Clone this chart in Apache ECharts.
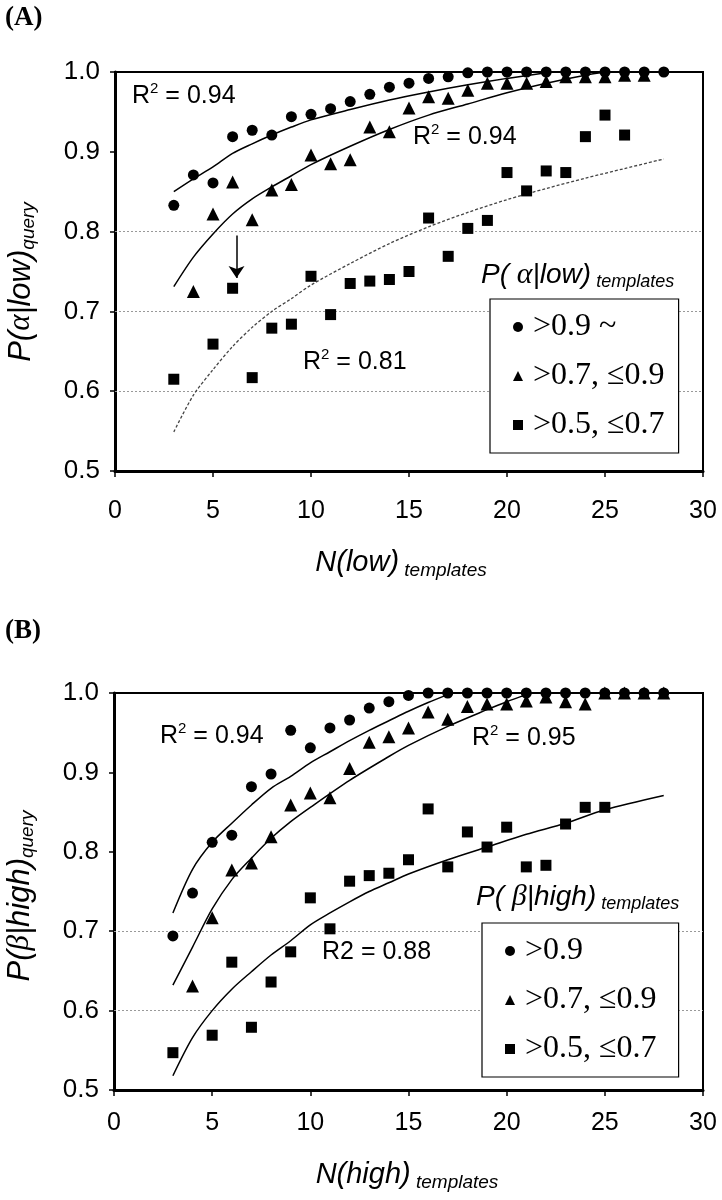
<!DOCTYPE html>
<html><head><meta charset="utf-8">
<script src="https://cdn.jsdelivr.net/npm/echarts@6/dist/echarts.min.js"></script>
<style>html,body{margin:0;padding:0;background:#fff}#c{width:722px;height:1200px}</style>
</head><body><div id="c"></div>
<script>
// ---------- data ----------
const xTicks = [0, 5, 10, 15, 20, 25, 30];
const yTicks = [0.5, 0.6, 0.7, 0.8, 0.9, 1.0];

// Panel A : P(alpha|low)
const circleA_x = [3,4,5,6,7,8,9,10,11,12,13,14,15,16,17,18,19,20,21,22,23,24,25,26,27,28];
const circleA_y = [0.833,0.871,0.861,0.919,0.927,0.921,0.944,0.947,0.954,0.963,0.972,0.981,0.986,0.992,0.994,0.999,1.0,1.0,1.0,1.0,1.0,1.0,1.0,1.0,1.0,1.0];
const triA_x = [4,5,6,7,8,9,10,11,12,13,14,15,16,17,18,19,20,21,22,23,24,25,26,27];
const triA_y = [0.725,0.822,0.862,0.815,0.852,0.859,0.896,0.885,0.890,0.931,0.925,0.955,0.969,0.967,0.977,0.986,0.986,0.986,0.988,0.994,0.994,0.994,0.996,0.996];
const sqA_x = [3,5,6,7,8,9,10,11,12,13,14,15,16,17,18,19,20,21,22,23,24,25,26];
const sqA_y = [0.615,0.659,0.729,0.617,0.679,0.684,0.744,0.696,0.735,0.738,0.740,0.750,0.817,0.769,0.804,0.814,0.874,0.851,0.876,0.874,0.919,0.946,0.921];

const fitCircleA_x = [3,4,5,6,7,8,9,10,12,14,16,18,20,22];
const fitCircleA_y = [0.850,0.866,0.881,0.898,0.910,0.921,0.931,0.940,0.953,0.965,0.975,0.984,0.992,0.999];
const fitTriA_x = [3,4,5,6,7,8,9,10,12,14,16,18,20,22,24,25];
const fitTriA_y = [0.731,0.768,0.797,0.822,0.841,0.856,0.870,0.884,0.907,0.928,0.946,0.960,0.974,0.986,0.996,1.0];
const fitSqA_x = [3,4,5,6,7,8,9,10,12,14,16,18,20,22,24,26,28];
const fitSqA_y = [0.549,0.595,0.627,0.656,0.680,0.700,0.716,0.733,0.760,0.785,0.806,0.824,0.840,0.854,0.867,0.879,0.891];

// Panel B : P(beta|high)
const circleB_x = [3,4,5,6,7,8,9,10,11,12,13,14,15,16,17,18,19,20,21,22,23,24,25,26,27,28];
const circleB_y = [0.694,0.748,0.812,0.821,0.882,0.898,0.953,0.931,0.956,0.966,0.981,0.989,0.997,1.0,1.0,1.0,1.0,1.0,1.0,1.0,1.0,1.0,1.0,1.0,1.0,1.0];
const triB_x = [4,5,6,7,8,9,10,11,12,13,14,15,16,17,18,19,20,21,22,23,24,25,26,27,28];
const triB_y = [0.631,0.717,0.777,0.786,0.819,0.859,0.874,0.868,0.905,0.938,0.945,0.956,0.976,0.967,0.983,0.986,0.986,0.990,0.995,0.989,0.986,1.0,1.0,1.0,1.0];
const sqB_x = [3,5,6,7,8,9,10,11,12,13,14,15,16,17,18,19,20,21,22,23,24,25];
const sqB_y = [0.547,0.569,0.661,0.579,0.636,0.674,0.742,0.703,0.763,0.770,0.773,0.790,0.854,0.781,0.825,0.806,0.831,0.781,0.783,0.835,0.856,0.856];

const fitCircleB_x = [3,4,5,6,7,8,9,10,11,12,13,14,15,16,17];
const fitCircleB_y = [0.723,0.778,0.812,0.836,0.859,0.880,0.895,0.912,0.926,0.940,0.953,0.965,0.977,0.988,0.998];
const fitTriB_x = [3,4,5,6,7,8,9,10,12,14,15,17,19,20,21];
const fitTriB_y = [0.632,0.680,0.728,0.765,0.792,0.817,0.838,0.856,0.890,0.920,0.934,0.958,0.979,0.989,0.998];
const fitSqB_x = [3,4,5,6,7,8,9,10,11,12,13,14,15,17,19,21,23,25,28];
const fitSqB_y = [0.518,0.566,0.600,0.627,0.649,0.670,0.688,0.708,0.723,0.737,0.750,0.761,0.772,0.790,0.806,0.822,0.836,0.853,0.871];

const legendA = ['>0.9 ~', '>0.7, \u22640.9', '>0.5, \u22640.7'];
const legendB = ['>0.9', '>0.7, \u22640.9 ', '>0.5, \u22640.7 '];
const r2A = ['0.94', '0.94', '0.81'];
const r2B = ['0.94', '0.95', '0.88'];
const gridLinesA = [0.6, 0.7, 0.8];
const gridLinesB = [0.6, 0.7];
const arrowA = {x: 6.2, from: 0.795, to: 0.742};

// ---------- helpers ----------
const zip = (xs, ys) => xs.map((x, i) => [x, ys[i]]);
const SANS = 'Liberation Sans', SERIF = 'Liberation Serif';

function axesFor(gi, labelMargin) {
  const x = {
    gridIndex: gi, type: 'value', min: xTicks[0], max: xTicks[xTicks.length - 1], interval: 5,
    axisLine: {show: true, onZero: false, lineStyle: {color: '#000', width: 3}},
    axisTick: {show: true, length: 6, lineStyle: {color: '#000', width: 1.5}},
    axisLabel: {fontSize: 25, fontFamily: SANS, color: '#000', margin: labelMargin},
    splitLine: {show: false}
  };
  const y = {
    gridIndex: gi, type: 'value', min: yTicks[0], max: yTicks[yTicks.length - 1], interval: 0.1,
    axisLine: {show: true, onZero: false, lineStyle: {color: '#000', width: 3}},
    axisTick: {show: true, length: 5, lineStyle: {color: '#000', width: 1.5}},
    axisLabel: {fontSize: 26, fontFamily: SANS, color: '#000', margin: 15, formatter: v => v.toFixed(1)},
    splitLine: {show: false}
  };
  return [x, y];
}
function scatter(name, gi, symbol, size, xs, ys) {
  return {name, type: 'scatter', xAxisIndex: gi, yAxisIndex: gi, symbol, symbolSize: size,
    itemStyle: {color: '#000', opacity: 1}, data: zip(xs, ys), z: 5};
}
function fit(name, gi, xs, ys, style) {
  return {name, type: 'line', xAxisIndex: gi, yAxisIndex: gi, showSymbol: false, smooth: 0.3,
    clip: true, lineStyle: style, data: zip(xs, ys), z: 4, silent: true};
}
function r2Text(x, y, val, sup) {
  return {type: 'text', x, y, style: {
    text: sup ? '{a|R}{s|2}{a| = ' + val + '}' : '{a|R2 = ' + val + '}',
    verticalAlign: 'middle',
    rich: {a: {fontSize: 25, fontFamily: SANS, fill: '#000', lineHeight: 30},
           s: {fontSize: 15, fontFamily: SANS, fill: '#000', lineHeight: 30, verticalAlign: 'top'}}
  }};
}
const richName = {
  i: {fontSize: 31, fontFamily: SANS, fontStyle: 'italic', fill: '#000', lineHeight: 34},
  g: {fontSize: 31, fontFamily: SERIF, fontStyle: 'italic', fill: '#000', lineHeight: 34},
  q: {fontSize: 19, fontFamily: SANS, fontStyle: 'italic', fill: '#000', lineHeight: 34, verticalAlign: 'bottom'}
};
const richX = {
  i: {fontSize: 29, fontFamily: SANS, fontStyle: 'italic', fill: '#000', lineHeight: 34},
  t: {fontSize: 19, fontFamily: SANS, fontStyle: 'italic', fill: '#000', lineHeight: 34, verticalAlign: 'bottom'}
};
const richLeg = {
  i: {fontSize: 28, fontFamily: SANS, fontStyle: 'italic', fill: '#000', lineHeight: 32},
  g: {fontSize: 30, fontFamily: SERIF, fontStyle: 'italic', fill: '#000', lineHeight: 32},
  t: {fontSize: 18, fontFamily: SANS, fontStyle: 'italic', fill: '#000', lineHeight: 32, verticalAlign: 'bottom'}
};
function legendCfg(names, left, top) {
  return {
    left, top, orient: 'vertical', selectedMode: false,
    data: [{name: names[0], icon: 'circle'}, {name: names[1], icon: 'triangle'}, {name: names[2], icon: 'rect'}],
    itemWidth: 10, itemHeight: 10, itemGap: 17,
    padding: [12, 14, 12, 23],
    borderColor: '#000', borderWidth: 1.2, backgroundColor: '#fff',
    textStyle: {fontFamily: SERIF, fontSize: 32, color: '#000', lineHeight: 31, padding: [0, 0, 0, 5]}
  };
}

const [xA, yA] = axesFor(0, 28);
const [xB, yB] = axesFor(1, 21);

const solid = {color: '#000', width: 1.5};
const dottedFit = {color: '#444', width: 1.3, type: [3, 2]};
const gridStyle = {type: [2, 2], color: '#999', width: 1};

const sqFitA = fit('fitSqA', 0, fitSqA_x, fitSqA_y, dottedFit);
sqFitA.markLine = {silent: true, symbol: 'none', label: {show: false}, lineStyle: gridStyle, z: 1,
  data: gridLinesA.map(v => ({yAxis: v}))};
const sqFitB = fit('fitSqB', 1, fitSqB_x, fitSqB_y, solid);
sqFitB.markLine = {silent: true, symbol: 'none', label: {show: false}, lineStyle: gridStyle, z: 1,
  data: gridLinesB.map(v => ({yAxis: v}))};
// arrow annotation in panel A
const arrowSeries = {name: 'arrowA', type: 'scatter', xAxisIndex: 0, yAxisIndex: 0, data: [], silent: true,
  markLine: {silent: true, symbol: ['none', 'arrow'], symbolSize: 12, label: {show: false},
    lineStyle: {color: '#000', width: 1.5, type: 'solid'}, itemStyle: {color: '#000'},
    data: [[{coord: [arrowA.x, arrowA.from]}, {coord: [arrowA.x, arrowA.to]}]]}};

const option = {
  backgroundColor: '#fff',
  animation: false,
  grid: [
    {left: 115, top: 72, width: 588, height: 399, show: true, borderColor: '#000', borderWidth: 2},
    {left: 114, top: 693, width: 589, height: 397, show: true, borderColor: '#000', borderWidth: 2}
  ],
  xAxis: [xA, xB],
  yAxis: [yA, yB],
  legend: [legendCfg(legendA, 490, 299), legendCfg(legendB, 482, 923)],
  series: [
    sqFitA,
    fit('fitCircleA', 0, fitCircleA_x, fitCircleA_y, solid),
    fit('fitTriA', 0, fitTriA_x, fitTriA_y, solid),
    arrowSeries,
    scatter(legendA[0], 0, 'circle', 11, circleA_x, circleA_y),
    scatter(legendA[1], 0, 'triangle', 13, triA_x, triA_y),
    scatter(legendA[2], 0, 'rect', 11, sqA_x, sqA_y),
    sqFitB,
    fit('fitCircleB', 1, fitCircleB_x, fitCircleB_y, solid),
    fit('fitTriB', 1, fitTriB_x, fitTriB_y, solid),
    scatter(legendB[0], 1, 'circle', 11, circleB_x, circleB_y),
    scatter(legendB[1], 1, 'triangle', 13, triB_x, triB_y),
    scatter(legendB[2], 1, 'rect', 11, sqB_x, sqB_y)
  ],
  graphic: [
    {type: 'text', x: 5, y: 18, style: {text: '(A)', font: 'bold 27px "Liberation Serif"', fill: '#000', verticalAlign: 'middle'}},
    {type: 'text', x: 5, y: 631, style: {text: '(B)', font: 'bold 27px "Liberation Serif"', fill: '#000', verticalAlign: 'middle'}},
    r2Text(132, 96, r2A[0], true),
    r2Text(413, 137, r2A[1], true),
    r2Text(303, 362, r2A[2], true),
    r2Text(160, 736, r2B[0], true),
    r2Text(472, 738, r2B[1], true),
    r2Text(322, 952, r2B[2], false),
    {type: 'text', x: 481, y: 275, style: {text: '{i|P( }{g|\u03b1}{i||low)}{t| templates}', verticalAlign: 'middle', rich: richLeg}},
    {type: 'text', x: 476, y: 897, style: {text: '{i|P( }{g|\u03b2}{i||high)}{t| templates}', verticalAlign: 'middle', rich: richLeg}},
    {type: 'text', x: 21, y: 282, rotation: Math.PI / 2, style: {text: '{i|P(}{g|\u03b1}{i||low)}{q|query}', align: 'center', verticalAlign: 'middle', rich: richName}},
    {type: 'text', x: 20, y: 896, rotation: Math.PI / 2, style: {text: '{i|P(}{g|\u03b2}{i||high)}{q|query}', align: 'center', verticalAlign: 'middle', rich: richName}},
    {type: 'text', x: 401, y: 563, style: {text: '{i|N(low)}{t| templates}', align: 'center', verticalAlign: 'middle', rich: richX}},
    {type: 'text', x: 407, y: 1175, style: {text: '{i|N(high)}{t| templates}', align: 'center', verticalAlign: 'middle', rich: richX}}
  ]
};
echarts.init(document.getElementById('c'), null, {renderer: 'canvas'}).setOption(option);
</script></body></html>
